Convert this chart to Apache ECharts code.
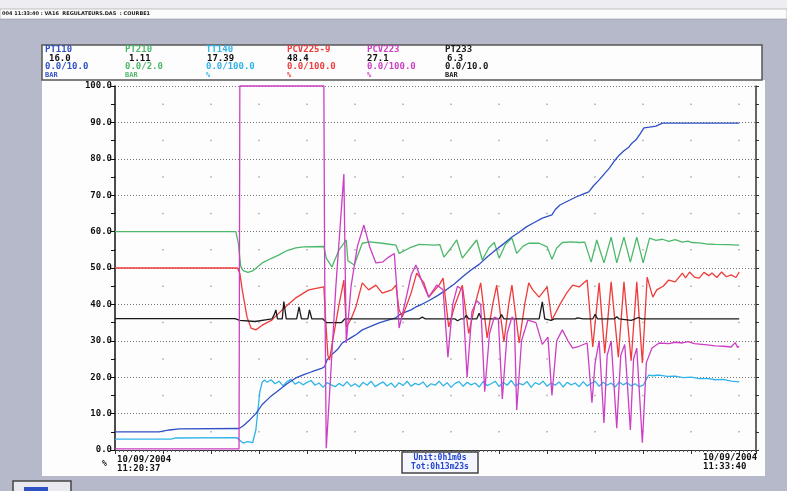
<!DOCTYPE html>
<html><head><meta charset="utf-8">
<script src="https://cdn.jsdelivr.net/npm/echarts@6/dist/echarts.min.js"></script>
<style>html,body{margin:0;padding:0;background:#b6b9ca}#c{width:787px;height:491px}</style>
</head><body><div id="c"></div>
<script>
// time in seconds from 11:20:37, values in % of range
const tagNames = ['PT110','PT210','TT140','PCV225-9','PCV223','PT233'];
const tagValues = ['16.0','1.11','17.39','48.4','27.1','6.3'];
const tagRanges = ['0.0/10.0','0.0/2.0','0.0/100.0','0.0/100.0','0.0/100.0','0.0/10.0'];
const tagUnits = ['BAR','BAR','%','%','%','BAR'];
const tagColors = ['#2f4fc4','#4cb86a','#2fb4ea','#ee3b3b','#cc3fc4','#1a1a1a'];
const startLabel = ['10/09/2004','11:20:37'];
const endLabel = ['10/09/2004','11:33:40'];
const unitLabels = ['Unit:0h1m0s','Tot:0h13m23s'];

const PT110 = [[0,5.0],[55,5.0],[68,5.5],[80,5.8],[155,5.9],[160,6.6],[168,8.2],[176,10],[184,12.5],[194,14.6],[205,16.5],[215,18.2],[226,19.8],[236,20.7],[246,21.5],[258,22.4],[262,22.9],[265,24.8],[270,26.0],[278,27.6],[284,29.4],[290,30.2],[296,31],[302,31.8],[309,33],[318,33.8],[330,34.9],[340,35.6],[351,36.3],[356,37.2],[362,37.8],[370,38.5],[376,39.3],[384,40.1],[392,41],[403,42.4],[414,44],[424,45.6],[434,47.5],[444,49.3],[455,51],[465,53],[476,55],[486,56.7],[496,58.5],[505,59.8],[514,61.3],[524,62.5],[534,63.7],[546,64.6],[550,66],[556,67.3],[566,68.4],[576,69.5],[584,70.2],[592,70.9],[598,72.6],[605,74.2],[612,76],[618,77.5],[624,79.4],[630,81],[636,82.2],[642,83.2],[646,84.3],[651,85.2],[656,86.8],[661,88.5],[668,88.7],[676,89],[684,89.8],[700,89.8],[780,89.8]];

const PT210 = [[0,60],[151,60],[154,57],[157,50.5],[160,49.3],[166,48.8],[172,49.2],[184,51.4],[195,52.6],[205,53.6],[215,54.8],[226,55.5],[236,55.8],[261,55.9],[264,52.7],[271,50.3],[280,55],[289,57.7],[291,52],[299,50.8],[309,56.8],[318,57.2],[334,56.8],[351,56.3],[355,54],[368,55.5],[380,56.5],[400,56.3],[406,56.4],[411,53],[420,55.5],[427,57.7],[434,52.7],[444,55.5],[452,57.7],[459,52.2],[467,55.5],[474,57],[480,52.7],[488,56.5],[496,58.2],[502,54],[510,56],[517,56.8],[530,56.8],[540,55.8],[546,52.4],[552,55.5],[559,57],[570,57.2],[580,57],[587,57.1],[595,51.6],[602,57.7],[611,51.4],[620,58.5],[627,51.4],[636,58.5],[644,51.6],[652,58.5],[660,51.4],[668,58.2],[676,57.6],[684,57.9],[692,57.3],[700,57.8],[709,57.1],[716,57.4],[721,57],[730,56.9],[739,56.6],[750,56.5],[765,56.4],[780,56.3]];

const TT140 = [[0,3.0],[70,3.0],[76,3.3],[152,3.4],[156,2.7],[160,1.9],[166,2.3],[172,2.0],[176,5.5],[181,16],[184,18.7],[187,19.2],
[190,18.6],[195,19.3],[200,18.2],[205,18.9],[210,17.6],[215,18.8],[220,19.4],[225,18.1],[230,18.7],[235,17.9],[240,18.6],[245,19.1],[250,17.8],[255,18.4],[260,17.2],[265,18.5],[270,17.9],[275,17.4],[280,18.3],[285,17.6],[290,18.8],[295,17.5],[300,18.2],[305,17.3],[310,18.6],[315,17.8],[320,18.9],[325,17.4],[330,18.1],[335,18.7],[340,17.6],[345,18.4],[350,17.2],[355,18.5],[360,17.7],[365,18.9],[370,17.5],[375,18.3],[380,17.9],[385,18.7],[390,17.3],[395,18.2],[400,17.8],[405,18.9],[410,17.6],[415,18.5],[420,17.2],[425,18.3],[430,18.8],[435,17.5],[440,18.6],[445,17.9],[450,18.4],[455,17.3],[460,18.8],[465,17.7],[470,18.2],[475,18.9],[480,17.4],[485,18.6],[490,17.8],[495,19.1],[500,17.6],[505,18.3],[510,17.9],[515,18.8],[520,17.2],[525,18.5],[530,18.0],[535,18.9],[540,17.5],[545,18.4],[550,17.8],[555,18.7],[560,17.3],[565,18.6],[570,17.9],[575,18.4],[580,17.4],[585,18.8],[590,17.6],[595,18.3],[600,18.9],[605,17.5],[610,18.6],[615,17.8],[620,18.4],[625,17.3],[630,18.7],[635,17.9],[640,18.5],[645,17.6],[650,18.2],[655,17.4],[660,17.8],[667,20.6],[672,20.4],[680,20.6],[690,20.2],[700,20.3],[710,19.9],[720,20.0],[730,19.6],[740,19.7],[750,19.3],[760,19.4],[770,18.9],[780,18.7]];

const PCV225 = [[0,50],[153,50],[156,48.5],[159,44],[165,36.5],[170,33.5],[176,33],[184,34.3],[196,35.7],[209,38.5],[226,41.8],[242,44],[261,44.8],[263,36.5],[266,26],[268,24.7],[272,30],[280,40],[286,46.7],[289,33.8],[295,36],[301,39.3],[309,45.9],[317,44],[326,45.3],[334,43.1],[346,44],[351,45.3],[355,38.5],[359,36.5],[370,43.1],[377,48.6],[386,45.9],[392,42],[405,45.3],[410,47.2],[417,33.8],[425,40],[434,45.3],[442,32],[450,40],[457,45.9],[465,30.8],[472,40],[477,45.3],[486,29.7],[492,40],[496,45.3],[505,29.4],[512,40],[517,45.9],[522,44],[530,42],[540,44.8],[546,35.7],[556,40],[564,43],[572,45.3],[580,44.8],[590,46.7],[597,28.3],[605,45.9],[612,26.6],[620,46.2],[629,25.5],[636,46.2],[645,24.5],[652,46.2],[659,23.9],[665,47.5],[672,42],[677,44],[685,45],[692,46.7],[700,46.2],[709,48.6],[713,47.3],[718,48.9],[724,47.5],[730,47.2],[736,48.8],[742,47.9],[746,48.6],[752,47.4],[758,48.9],[764,47.6],[770,48.1],[776,47.4],[780,48.9]];

const PCV223 = [[0,0.3],[155,0.3],[156,100],[261,100],[262,50],[264,0.5],[268,15],[276,45],[286,75.8],[289,29.4],[295,45],[303,56],[311,61.8],[318,56],[326,51.4],[334,51.6],[342,53],[349,54],[352,45],[355,33.5],[362,40],[370,48],[376,50.8],[384,46],[392,42],[402,45.3],[410,44],[416,25.5],[422,40],[428,45],[434,44],[440,20],[446,38],[452,41],[457,40],[462,16],[468,32],[474,36.5],[479,36],[484,14],[490,32],[496,36.5],[499,36],[502,11],[508,30],[516,35.7],[526,35],[534,29],[541,31],[546,15],[552,30],[559,33],[566,30],[572,28],[580,28.5],[590,29.4],[596,13],[600,24],[605,30],[611,7.4],[615,26],[620,30],[627,6],[632,26],[637,29],[644,5.5],[648,25],[652,28],[659,2],[664,24],[671,28],[680,29.4],[692,29.2],[700,29.6],[709,29.4],[716,29.8],[724,29.2],[730,29.1],[740,28.9],[750,28.6],[760,28.5],[770,28.3],[775,29.5],[778,28.2],[780,28.5]];

const PT233 = [[0,36.1],[150,36.1],[156,35.6],[175,35.3],[190,35.8],[196,36],[199,37.2],[201,38.5],[203,36],[209,36],[211,40.8],[214,36],[227,36],[230,39.3],[233,36],[241,36],[243,38.5],[246,36],[260,36],[264,35],[283,35],[287,36],[380,36],[384,36.5],[388,36],[425,36],[428,35.5],[432,36],[436,36],[439,37],[442,36],[452,36],[455,37.6],[458,36],[480,36],[483,37.2],[486,36],[500,36],[502,36.5],[505,36],[530,36],[534,40.7],[537,36],[545,35.6],[549,36],[560,36],[562,36.4],[565,36],[575,36],[578,36.3],[580,36],[585,36],[587,36.3],[590,36],[597,36],[600,37.3],[603,36],[624,36],[627,36.6],[630,36],[645,35.6],[650,36],[654,36.4],[658,36],[780,36]];

const seriesData = [TT140, PT210, PT110, PCV225, PT233, PCV223];
const seriesColors = [tagColors[2], tagColors[1], tagColors[0], tagColors[3], tagColors[5], tagColors[4]];
const seriesNames = [tagNames[2], tagNames[1], tagNames[0], tagNames[3], tagNames[5], tagNames[4]];

const chart = echarts.init(document.getElementById('c'), null, {renderer:'canvas'});
const mono = 'DejaVu Sans Mono';
const graphics = [
  {type:'rect', z:-10, shape:{x:0,y:0,width:787,height:9}, style:{fill:'#eeeef2'}},
  {type:'rect', z:-10, shape:{x:0,y:9,width:787,height:10}, style:{fill:'#fbfbfb', stroke:'#888', lineWidth:0.5}},
  {type:'text', z:10, style:{x:2,y:14,text:'004 11:33:40 : VA16  REGULATEURS.DAS  : COURBE1', font:'bold 5px "DejaVu Sans"', fill:'#222', verticalAlign:'middle'}},
  {type:'rect', z:-10, shape:{x:42,y:80,width:723,height:396}, style:{fill:'#fdfdfd'}},
  {type:'rect', z:-10, shape:{x:42,y:45,width:720,height:35}, style:{fill:'#fdfdfd', stroke:'#555', lineWidth:1.5}},
  {type:'rect', z:-10, shape:{x:13,y:481,width:58,height:14}, style:{fill:'#e8e8ee', stroke:'#444', lineWidth:1.5}},
  {type:'rect', z:-9, shape:{x:24,y:487,width:24,height:4}, style:{fill:'#2f4fc4'}}
];
const headerX = [45,125,206,287,367,445];
const valueX = [49,129,207,287,367,447];
tagNames.forEach((n,i)=>{
  const col = tagColors[i];
  graphics.push({type:'text', z:10, style:{x:headerX[i], y:50, text:n, font:'bold 9px "'+mono+'"', fill:col, verticalAlign:'middle'}});
  graphics.push({type:'text', z:10, style:{x:valueX[i], y:59, text:tagValues[i], font:'bold 9px "'+mono+'"', fill:'#111', verticalAlign:'middle'}});
  graphics.push({type:'text', z:10, style:{x:headerX[i], y:67, text:tagRanges[i], font:'bold 9px "'+mono+'"', fill:col, verticalAlign:'middle'}});
  graphics.push({type:'text', z:10, style:{x:headerX[i], y:75, text:tagUnits[i], font:'bold 7px "'+mono+'"', fill:col, verticalAlign:'middle'}});
});
graphics.push({type:'text', z:10, style:{x:102, y:464, text:'%', font:'bold 8px "'+mono+'"', fill:'#111', verticalAlign:'middle'}});
graphics.push({type:'text', z:10, style:{x:117, y:460, text:startLabel[0], font:'bold 9px "'+mono+'"', fill:'#111', verticalAlign:'middle'}});
graphics.push({type:'text', z:10, style:{x:117, y:469, text:startLabel[1], font:'bold 9px "'+mono+'"', fill:'#111', verticalAlign:'middle'}});
graphics.push({type:'text', z:10, style:{x:703, y:458, text:endLabel[0], font:'bold 9px "'+mono+'"', fill:'#111', verticalAlign:'middle'}});
graphics.push({type:'text', z:10, style:{x:703, y:467, text:endLabel[1], font:'bold 9px "'+mono+'"', fill:'#111', verticalAlign:'middle'}});
graphics.push({type:'rect', z:9, shape:{x:402,y:452,width:76,height:21}, style:{fill:'#f4f6ff', stroke:'#444', lineWidth:1.5}});
graphics.push({type:'text', z:10, style:{x:440, y:458, text:unitLabels[0], font:'bold 8px "'+mono+'"', fill:'#2244cc', align:'center', verticalAlign:'middle'}});
graphics.push({type:'text', z:10, style:{x:440, y:467, text:unitLabels[1], font:'bold 8px "'+mono+'"', fill:'#2244cc', align:'center', verticalAlign:'middle'}});

const option = {
  backgroundColor:'transparent',
  animation:false,
  grid:{left:115, top:86, width:641, height:364},
  xAxis:{type:'value', min:0, max:801, interval:60,
    axisLine:{show:true, onZero:false, lineStyle:{color:'#333', width:1}},
    axisTick:{show:true, length:4, lineStyle:{color:'#333'}},
    minorTick:{show:true, splitNumber:12, length:2, lineStyle:{color:'#555'}},
    axisLabel:{show:false},
    splitLine:{show:true, lineStyle:{color:'#aaa', width:1.5, type:[1.5,34.9], dashOffset:18.95}}},
  yAxis:[{type:'value', min:0, max:100, interval:10, position:'left',
    axisLine:{show:true, lineStyle:{color:'#111', width:1.5}},
    axisTick:{show:true, length:5, lineStyle:{color:'#111'}},
    minorTick:{show:true, splitNumber:2, length:4, lineStyle:{color:'#111'}},
    axisLabel:{formatter:v=>v.toFixed(1), fontFamily:mono, fontWeight:'bold', fontSize:9, color:'#111', margin:3},
    splitLine:{show:true, lineStyle:{color:'#777', width:1, type:[1,2]}}},
   {type:'value', min:0, max:100, interval:10, position:'right',
    axisLine:{show:true, lineStyle:{color:'#333', width:1.5}},
    axisTick:{show:true, length:3, lineStyle:{color:'#333'}},
    minorTick:{show:true, splitNumber:2, length:3, lineStyle:{color:'#333'}},
    axisLabel:{show:false}, splitLine:{show:false}}],
  graphic:graphics,
  series: seriesData.map((d,i)=>({type:'line', name:seriesNames[i], data:d, showSymbol:false, symbol:'none', clip:false,
    lineStyle:{color:seriesColors[i], width:1.3}, itemStyle:{color:seriesColors[i]}, z:2+i}))
};
chart.setOption(option);
</script></body></html>
